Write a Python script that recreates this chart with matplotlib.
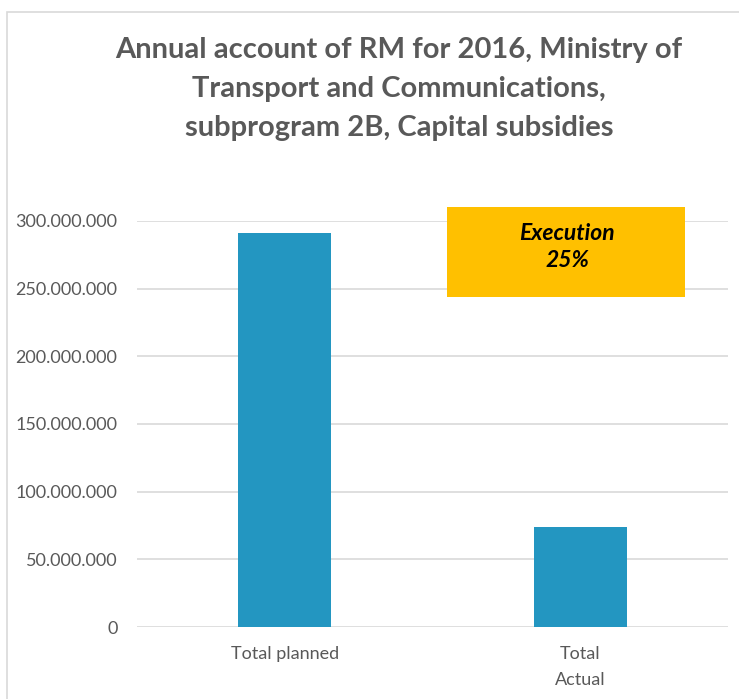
import matplotlib
matplotlib.use("Agg")
import matplotlib.pyplot as plt
from matplotlib.patches import Rectangle
from matplotlib.ticker import FuncFormatter

categories = ["Total planned", "Total\nActual"]
amounts = [291500000, 74000000]
execution_label = "Execution\n25%"

plt.rcParams['font.family'] = ['Lato', 'DejaVu Sans']

grey = '#595959'
bar_color = '#2396C1'

fig = plt.figure(figsize=(7.39, 6.99), dpi=100)
W, H = 739, 699

# outer chart border (partly cut off like the screenshot)
fig.patches.append(Rectangle((7 / W, -0.1), 1.2, 1 - 12 / H + 0.1, transform=fig.transFigure,
                             fill=False, edgecolor='#D9D9D9', linewidth=1.2))

ax = fig.add_axes([137 / W, 1 - 627 / H, (728 - 137) / W, (627 - 221) / H])
ax.bar(range(len(amounts)), amounts, width=0.315, color=bar_color, zorder=3)
ax.set_xlim(-0.5, 1.5)
ax.set_ylim(0, 300000000)
ax.set_yticks(range(0, 300000001, 50000000))
ax.yaxis.set_major_formatter(FuncFormatter(lambda v, p: f"{int(v):,}".replace(",", ".")))
ax.set_xticks(range(len(categories)))
ax.set_xticklabels(categories, linespacing=1.75)
ax.grid(axis='y', color='#D9D9D9', linewidth=1.2, zorder=0)
ax.set_axisbelow(True)
for s in ax.spines.values():
    s.set_visible(False)
ax.tick_params(axis='both', length=0, labelsize=13, labelcolor=grey)
ax.tick_params(axis='y', pad=14)
ax.tick_params(axis='x', pad=14)

fig.text(399 / W, 1 - 89 / H,
         "Annual account of RM for 2016, Ministry of\nTransport and Communications,\nsubprogram 2B, Capital subsidies",
         ha='center', va='center', fontsize=21, fontweight='bold', color=grey, linespacing=1.6)

# execution box
fig.patches.append(Rectangle((447 / W, 1 - 297 / H), (685 - 447) / W, 90 / H,
                             transform=fig.transFigure, facecolor='#FFC000', edgecolor='none', zorder=5))
fig.text(567 / W, 1 - 247 / H, execution_label, ha='center', va='center', fontsize=16.5,
         fontweight='bold', fontstyle='italic', color='black', linespacing=1.4, zorder=6)

fig.savefig("out.png", dpi=100)
